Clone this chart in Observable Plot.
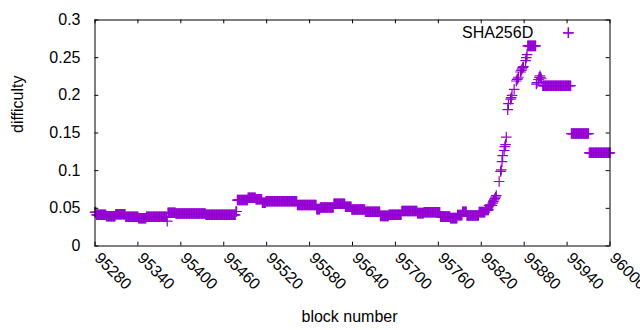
<!DOCTYPE html>
<html><head><meta charset="utf-8">
<script src="https://cdn.jsdelivr.net/npm/d3@7"></script>
<script src="https://cdn.jsdelivr.net/npm/@observablehq/plot@0.6"></script>
<style>
html,body{margin:0;padding:0;background:#fff;}
#chart{width:640px;height:330px;}
</style></head><body><div id="chart"></div>
<script>
const seriesName = "SHA256D";
const xLabel = "block number";
const yLabel = "difficulty";

// difficulty readings: runs of consecutive blocks sharing one read value
const runStart = [95280,95282,95296,95309,95323,95341,95352,95381,95382,95393,95435,95477,95479,95494,95505,95514,95519,95563,95590,95595,95614,95630,95639,95658,95679,95691,95709,95731,95740,95763,95777,95787,95794,95800,95817,95826,95831,
  95836,95837,95838,95839,95840,95841,95845,95847,95848,95849,95850,95852,95853,95854,95855,95857,95858,95861,95862,95863,95866,95869,95870,95871,95872,95875,95876,95877,95878,95879,95882,95883,95884,95885,
  95897,95898,95900,95901,95902,95903,95904,95906,95942,95946,95971];
const runEnd = [95281,95295,95308,95322,95340,95351,95380,95381,95392,95434,95476,95478,95493,95504,95513,95518,95562,95589,95594,95613,95629,95638,95657,95678,95690,95708,95730,95739,95762,95776,95786,95793,95799,95816,95825,95830,95835,
  95836,95837,95838,95839,95840,95841,95845,95847,95848,95849,95850,95852,95853,95854,95855,95857,95858,95861,95862,95863,95866,95869,95870,95871,95872,95875,95876,95877,95878,95879,95882,95883,95884,95896,
  95897,95898,95900,95901,95902,95903,95904,95945,95942,95970,96000];
const runValue = [0.045,0.0414,0.0396,0.0422,0.0388,0.0369,0.0388,0.033,0.0441,0.0431,0.0414,0.0458,0.061,0.064,0.062,0.0575,0.0595,0.0545,0.049,0.051,0.056,0.052,0.0485,0.0455,0.040,0.0414,0.0465,0.0436,0.0448,0.039,0.037,0.041,0.0455,0.0405,0.045,0.048,0.054,
  0.0568,0.059,0.0613,0.063,0.0648,0.067,0.0856,0.099,0.101,0.112,0.120,0.1268,0.132,0.1347,0.1445,0.181,0.189,0.195,0.197,0.200,0.208,0.219,0.221,0.222,0.224,0.231,0.233,0.235,0.237,0.238,0.246,0.250,0.254,0.2657,
  0.215,0.217,0.221,0.224,0.226,0.224,0.222,0.2127,0.283,0.1493,0.1237];

const xTicks = [95280,95340,95400,95460,95520,95580,95640,95700,95760,95820,95880,95940,96000];
const xTickLabels = ["95280","95340","95400","95460","95520","95580","95640","95700","95760","95820","95880","95940","96000"];
const yTicks = [0,0.05,0.1,0.15,0.2,0.25,0.3];
const yTickLabels = ["0","0.05","0.1","0.15","0.2","0.25","0.3"];

const points = [];
runStart.forEach((s, i) => {
  for (let b = s; b <= runEnd[i]; b++) points.push({block: b, difficulty: runValue[i]});
});

const purple = "#9400d3";
const mL = 94.5, mR = 30.5, mT = 19.5, mB = 84.5;
const W = 640, H = 330;
const innerH = H - mT - mB, innerW = W - mL - mR;
const tick = 3.8;

const chart = Plot.plot({
  width: W, height: H,
  marginLeft: mL, marginRight: mR, marginTop: mT, marginBottom: mB,
  style: {fontFamily: "'Liberation Sans', Arial, sans-serif", fontSize: "16px", color: "#000", background: "#fff"},
  x: {type: "linear", domain: [95280, 96000], axis: null},
  y: {type: "linear", domain: [0, 0.3], axis: null},
  marks: [
    Plot.dot(points, {x: "block", y: "difficulty", symbol: "plus", r: 3.5, stroke: purple, strokeWidth: 1.2, fill: "none"}),
    Plot.frame({stroke: "#000", strokeWidth: 1}),
    Plot.tickX(xTicks, {x: d => d, insetTop: innerH - tick, stroke: "#000"}),
    Plot.tickX(xTicks, {x: d => d, insetBottom: innerH - tick, stroke: "#000"}),
    Plot.tickY(yTicks, {y: d => d, insetRight: innerW - tick, stroke: "#000"}),
    Plot.tickY(yTicks, {y: d => d, insetLeft: innerW - tick, stroke: "#000"}),
    Plot.text(yTicks, {y: d => d, text: (d, i) => yTickLabels[i], frameAnchor: "left", textAnchor: "end", lineAnchor: "middle", dx: -14.5, fill: "#000"}),
    Plot.text(xTicks, {x: d => d, text: (d, i) => xTickLabels[i], frameAnchor: "bottom", textAnchor: "start", lineAnchor: "middle", rotate: 45, dx: 2.3, dy: 9.5, fill: "#000"}),
    Plot.text([yLabel], {text: d => d, frameAnchor: "left", lineAnchor: "middle", rotate: -90, dx: -77.5, fill: "#000"}),
    Plot.text([xLabel], {text: d => d, frameAnchor: "bottom", lineAnchor: "middle", dx: -3, dy: 70.5, fill: "#000"}),
    Plot.text([seriesName], {text: d => d, frameAnchor: "top-right", textAnchor: "end", lineAnchor: "middle", dx: -76.8, dy: 12.8, fill: "#000"}),
    Plot.dot([seriesName], {frameAnchor: "top-right", dx: -41.8, dy: 12.8, symbol: "plus", r: 3.5, stroke: purple, strokeWidth: 1.2, fill: "none"})
  ]
});
document.getElementById("chart").appendChild(chart);
</script>
</body></html>
